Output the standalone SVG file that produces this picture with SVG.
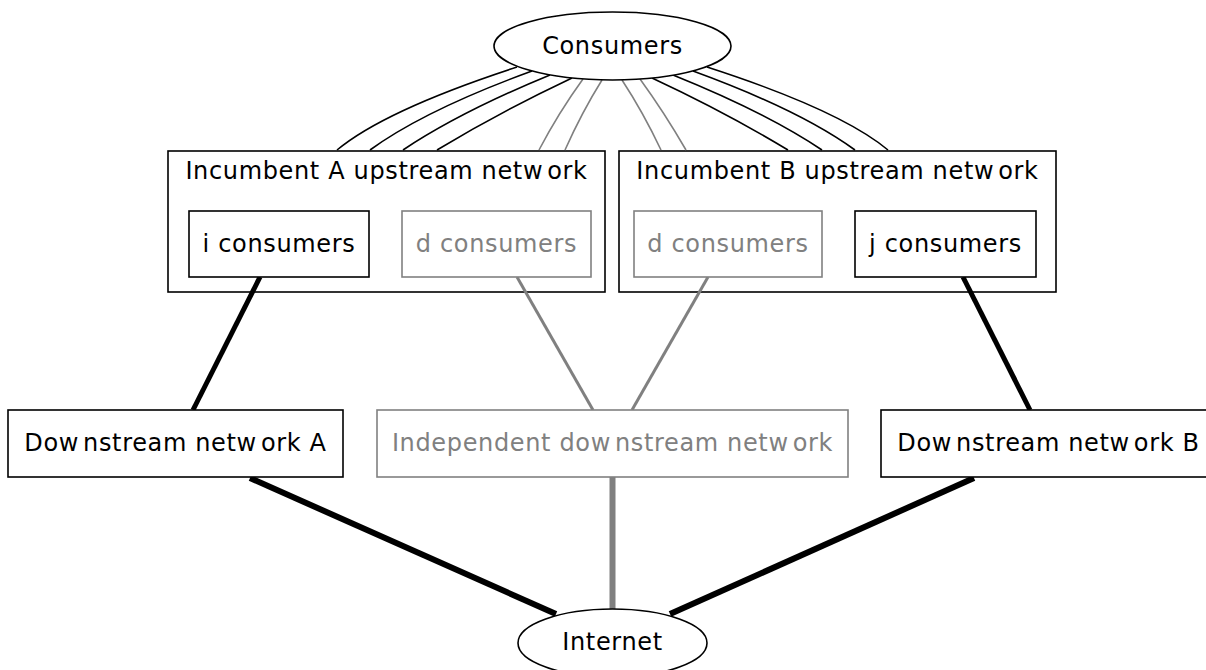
<svg xmlns="http://www.w3.org/2000/svg" width="1206" height="670" viewBox="0 0 1206 670">
<style>
text{font-family:"DejaVu Sans","Liberation Sans",sans-serif;font-size:24px;letter-spacing:0.65px;text-anchor:middle;fill:#000}
.g text{fill:#808080}
.box{fill:#fff;stroke:#000;stroke-width:1.6}
.gbox{fill:#fff;stroke:#808080;stroke-width:1.6}
.cl{fill:none;stroke:#000;stroke-width:1.6}
.thin{fill:none;stroke:#000;stroke-width:1.6}
.thing{fill:none;stroke:#808080;stroke-width:1.6}
.thick{fill:none;stroke:#000;stroke-width:5}
.thickb{fill:none;stroke:#000;stroke-width:6}
.gmid{fill:none;stroke:#808080;stroke-width:3}
.gthick{fill:none;stroke:#808080;stroke-width:6}
</style>
<g id="clusterA">
<rect class="cl" x="168" y="151" width="437" height="141"/>
<text x="386.5" y="179">Incumbent A upstream netw<tspan dx="4">ork</tspan></text>
</g>
<g id="clusterB">
<rect class="cl" x="619" y="151" width="437" height="141"/>
<text x="837.5" y="179">Incumbent B upstream netw<tspan dx="4">ork</tspan></text>
</g>
<g id="connectors">
<path class="thin" d="M517,67 Q385,110 337,150"/>
<path class="thin" d="M532,71 Q425,110 370,150"/>
<path class="thin" d="M550,75 Q460,112 403,150"/>
<path class="thin" d="M572,78 Q500,112 437,150"/>
<path class="thing" d="M583,79 Q559,112 539,150"/>
<path class="thing" d="M602,80 Q582,112 565,150"/>
<path class="thing" d="M622,80 Q643,112 661,150"/>
<path class="thing" d="M640,79 Q664,112 686,150"/>
<path class="thin" d="M652,78 Q725,112 788,150"/>
<path class="thin" d="M673,75 Q765,112 822,150"/>
<path class="thin" d="M693,71 Q800,110 855,150"/>
<path class="thin" d="M707,67 Q840,110 888,150"/>
<line class="thick" x1="260" y1="277" x2="193" y2="410"/>
<line class="gmid" x1="517" y1="277" x2="593" y2="410"/>
<line class="gmid" x1="708" y1="277" x2="632" y2="410"/>
<line class="thick" x1="963" y1="277" x2="1030" y2="410"/>
<line class="thickb" x1="250" y1="478" x2="556" y2="614"/>
<line class="gthick" x1="612.5" y1="477" x2="612.5" y2="609"/>
<line class="thickb" x1="974" y1="478" x2="670" y2="614"/>
</g>
<g id="consumers">
<ellipse class="box" cx="612.5" cy="46" rx="118.5" ry="34"/>
<text x="612.5" y="54">Consumers</text>
</g>
<g id="iConsumers">
<rect class="box" x="189" y="211" width="180" height="66"/>
<text x="279" y="252">i consumers</text>
</g>
<g id="dConsumersA" class="g">
<rect class="gbox" x="402" y="211" width="189" height="66"/>
<text x="496.5" y="252">d consumers</text>
</g>
<g id="dConsumersB" class="g">
<rect class="gbox" x="634" y="211" width="188" height="66"/>
<text x="728" y="252">d consumers</text>
</g>
<g id="jConsumers">
<rect class="box" x="855" y="211" width="181" height="66"/>
<text x="945.5" y="252">j consumers</text>
</g>
<g id="downstreamA">
<rect class="box" x="8" y="410" width="335" height="67"/>
<text x="175.5" y="451">Dow<tspan dx="4">nstream netw</tspan><tspan dx="4">ork A</tspan></text>
</g>
<g id="independent" class="g">
<rect class="gbox" x="377" y="410" width="471" height="67"/>
<text x="612.5" y="451">Independent dow<tspan dx="4">nstream netw</tspan><tspan dx="4">ork</tspan></text>
</g>
<g id="downstreamB">
<rect class="box" x="881" y="410" width="335" height="67"/>
<text x="1048.5" y="451">Dow<tspan dx="4">nstream netw</tspan><tspan dx="4">ork B</tspan></text>
</g>
<g id="internet">
<ellipse class="box" cx="612.5" cy="643" rx="94.5" ry="34"/>
<text x="612.5" y="650">Internet</text>
</g>
</svg>
